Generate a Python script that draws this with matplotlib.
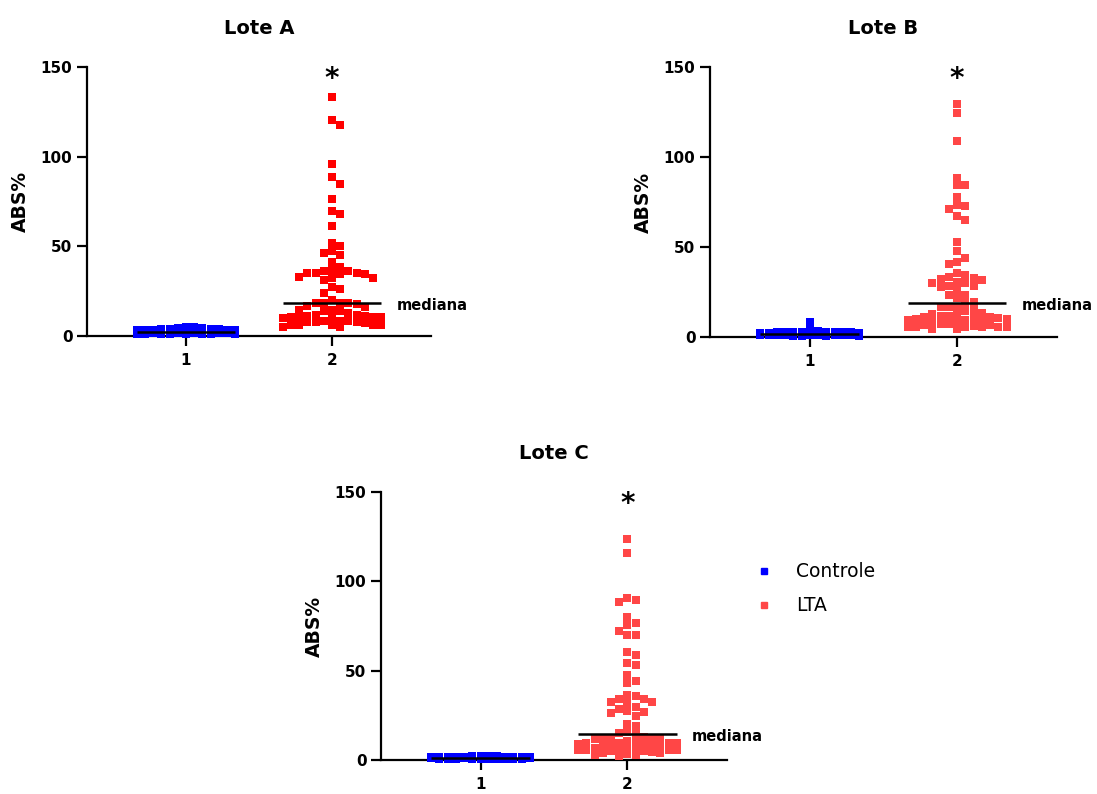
import numpy as np
import matplotlib
matplotlib.use('Agg')
import matplotlib.pyplot as plt
from matplotlib.lines import Line2D

# ABS% values (controle = grupo 1, LTA = grupo 2)
a_ctrl = [2.1, 1.5, 3.2, 2.8, 1.2, 2.5, 3.8, 1.9, 2.2, 4.1, 3.0, 1.7, 2.6, 3.5, 1.4,
          2.0, 4.5, 2.9, 1.8, 3.3, 2.4, 1.1, 3.9, 2.7, 1.6, 2.3, 4.8, 3.1, 1.3, 2.5,
          3.6, 2.0, 1.9, 4.2, 2.8, 1.5, 3.4, 2.2, 1.0, 3.7, 2.6, 1.8, 5.2, 2.9, 1.4,
          3.0, 2.1, 1.7, 4.0, 2.4, 1.2, 3.2, 2.7, 1.6, 2.0, 3.5, 1.9, 2.3, 1.1, 2.6]
a_lta = [133.1, 120.3, 117.7, 95.7, 88.9, 85.0, 76.6, 69.9, 68.2, 61.2, 51.9, 50.4,
         47.6, 46.5, 45.0, 41.5, 38.7, 35.0, 35.0, 36.8, 33.1, 36.4, 32.3, 35.0, 31.2,
         27.5, 32.3, 36.0, 34.4, 34.4, 26.4, 24.2, 20.1, 16.4, 18.2, 14.5, 9.8, 6.1,
         18.2, 13.9, 8.4, 18.0, 14.0, 11.0, 8.0, 5.0, 18.4, 14.7, 10.1, 6.4, 18.4, 12.0,
         8.6, 4.8, 16.5, 12.6, 8.0, 10.5, 7.1, 10.5, 6.1, 10.5, 6.1, 9.8, 6.1, 12.0,
         8.6, 11.0, 8.0]

b_ctrl = [1.8, 1.2, 2.5, 2.1, 0.9, 1.6, 3.0, 1.4, 1.9, 2.7, 0.8, 1.3, 2.2, 1.7, 3.4,
          1.1, 2.0, 1.5, 2.8, 0.7, 1.6, 2.4, 1.0, 1.9, 8.5, 4.5, 2.3, 1.2, 2.6, 1.4,
          0.9, 2.0, 1.7, 3.1, 1.3, 2.2, 0.8, 1.5, 2.9, 1.1, 1.8, 2.4, 1.0, 1.6, 2.1,
          0.6, 1.4, 2.7, 1.2, 1.9, 2.3, 0.9, 1.5, 2.0, 1.3, 1.7, 2.5, 1.1]
b_lta = [129.3, 124.6, 109.1, 88.5, 84.3, 84.3, 78.0, 72.8, 71.3, 73.5, 67.4, 65.2,
         53.0, 48.0, 41.9, 44.0, 40.4, 34.4, 30.7, 32.6, 28.4, 33.5, 29.8, 26.1, 35.4,
         31.7, 28.0, 30.2, 32.4, 28.4, 23.1, 23.1, 21.6, 19.4, 18.8, 16.5, 15.0, 16.5,
         16.8, 13.5, 11.6, 7.8, 9.6, 5.5, 9.7, 5.7, 10.7, 6.5, 11.8, 7.4, 4.3, 10.3,
         6.1, 11.2, 7.4, 4.3, 10.2, 5.8, 10.2, 5.8, 12.0, 5.8, 11.2, 6.5, 9.6, 5.5,
         14.2, 12.8, 8.9]

c_ctrl = [1.2, 0.8, 1.6, 1.0, 1.9, 0.7, 1.4, 1.1, 2.1, 0.9, 1.3, 1.7, 0.6, 1.5, 1.0,
          1.8, 0.8, 1.2, 2.2, 1.4, 0.9, 1.6, 1.1, 0.7, 1.3, 2.0, 1.0, 1.5, 0.8, 1.7,
          1.2, 0.9, 1.9, 1.4, 0.6, 1.1, 1.6, 1.3, 0.8, 1.8, 1.0, 1.2, 1.5, 0.9, 2.0,
          1.1, 0.7, 1.4, 1.3, 1.6, 1.0, 0.8, 1.7, 1.2]
c_lta = [123.5, 116.0, 90.8, 88.2, 89.5, 80.2, 76.5, 75.6, 72.4, 70.0, 70.0, 60.6,
         58.9, 54.5, 53.4, 47.6, 43.1, 44.2, 32.6, 34.1, 29.9, 26.7, 34.1, 26.5, 36.0,
         28.5, 24.8, 36.3, 32.0, 27.3, 32.4, 20.1, 19.2, 15.8, 15.3, 14.7, 12.3, 12.9,
         11.8, 12.4, 12.4, 12.4, 7.8, 5.2, 9.3, 3.7, 7.0, 7.8, 4.1, 7.8, 4.6, 7.0, 2.4,
         9.3, 5.6, 7.8, 3.0, 9.3, 5.6, 8.4, 2.9, 5.6, 9.3, 10.2, 5.6, 6.2, 4.8, 8.8,
         3.4, 10.8, 6.6]

titles = ['Lote A', 'Lote B', 'Lote C']
groups = ['1', '2']
legend_labels = ['Controle', 'LTA']

BLUE = '#0000FF'
RED_A = '#FF0000'
RED = '#FF4646'


def swarm(vals, dx=0.056, dy=4.2, max_col=6):
    # prism-like column layout: highest values first, centre-out,
    # at most max_col columns each side (overlap once they are full)
    vals = np.asarray(vals, dtype=float)
    order = [0]
    for k in range(1, max_col + 1):
        order += [k, -k]
    cols = {c: [] for c in order}
    offs = np.zeros(len(vals))
    for i in np.argsort(-vals):
        v = vals[i]
        best, best_gap = None, -1
        for c in order:
            gap = min([abs(v - y) for y in cols[c]], default=np.inf)
            if gap >= dy:
                best = c
                break
            if gap > best_gap + 1e-9:
                best, best_gap = c, gap
        cols[best].append(v)
        offs[i] = best * dx
    return offs


def draw_panel(ax, title, ctrl, lta, red):
    ax.scatter(1 + swarm(ctrl, dy=1.2), ctrl, marker='s', s=34, color=BLUE,
               linewidths=0, clip_on=False, zorder=3)
    ax.scatter(2 + swarm(lta), lta, marker='s', s=34, color=red,
               linewidths=0, clip_on=False, zorder=3)
    for x, v in [(1, ctrl), (2, lta)]:
        med = np.median(v)
        ax.plot([x - 0.335, x + 0.335], [med, med], color='black', lw=1.8,
                solid_capstyle='butt', zorder=4, clip_on=False)
    ax.annotate('mediana', (2.44, np.median(lta)), xytext=(0, -5.2),
                textcoords='offset points', fontsize=10.5, fontweight='bold',
                va='baseline', ha='left', annotation_clip=False)
    ax.annotate('*', (2, 150), xytext=(0, -14.5), textcoords='offset points',
                fontsize=20, fontweight='bold', ha='center', va='baseline',
                annotation_clip=False)

    ax.set_xlim(0.322, 2.678)
    ax.set_ylim(0, 150)
    ax.set_xticks([1, 2])
    ax.set_xticklabels(groups)
    ax.set_yticks([0, 50, 100, 150])
    for s in ['top', 'right']:
        ax.spines[s].set_visible(False)
    for s in ['left', 'bottom']:
        ax.spines[s].set_linewidth(1.6)
    ax.tick_params(width=1.6, length=7.5, labelsize=11, pad=3)
    ax.tick_params(axis='x', pad=5)
    for lbl in ax.get_xticklabels() + ax.get_yticklabels():
        lbl.set_fontweight('bold')
    ax.set_title(title, fontsize=14, fontweight='bold', pad=24)
    ax.set_ylabel('ABS%', fontsize=13.5, fontweight='bold', labelpad=8)


fig = plt.figure(figsize=(10.97, 7.94), dpi=100)
ax_a = fig.add_axes([0.0793, 0.5768, 0.3136, 0.3388])
ax_b = fig.add_axes([0.6472, 0.5756, 0.3163, 0.3400])
ax_c = fig.add_axes([0.3473, 0.0428, 0.3154, 0.3375])

draw_panel(ax_a, titles[0], a_ctrl, a_lta, RED_A)
draw_panel(ax_b, titles[1], b_ctrl, b_lta, RED)
draw_panel(ax_c, titles[2], c_ctrl, c_lta, RED)

handles = [Line2D([], [], marker='s', ls='none', color=BLUE, markersize=4.5),
           Line2D([], [], marker='s', ls='none', color=RED, markersize=4.5)]
ax_c.legend(handles, legend_labels, loc='upper left', bbox_to_anchor=(0.688, 0.292),
            bbox_transform=fig.transFigure, frameon=False, fontsize=13.5,
            handlelength=1, handletextpad=1.2, labelspacing=0.8, borderpad=0,
            borderaxespad=0)

fig.savefig('out.png', dpi=100)
